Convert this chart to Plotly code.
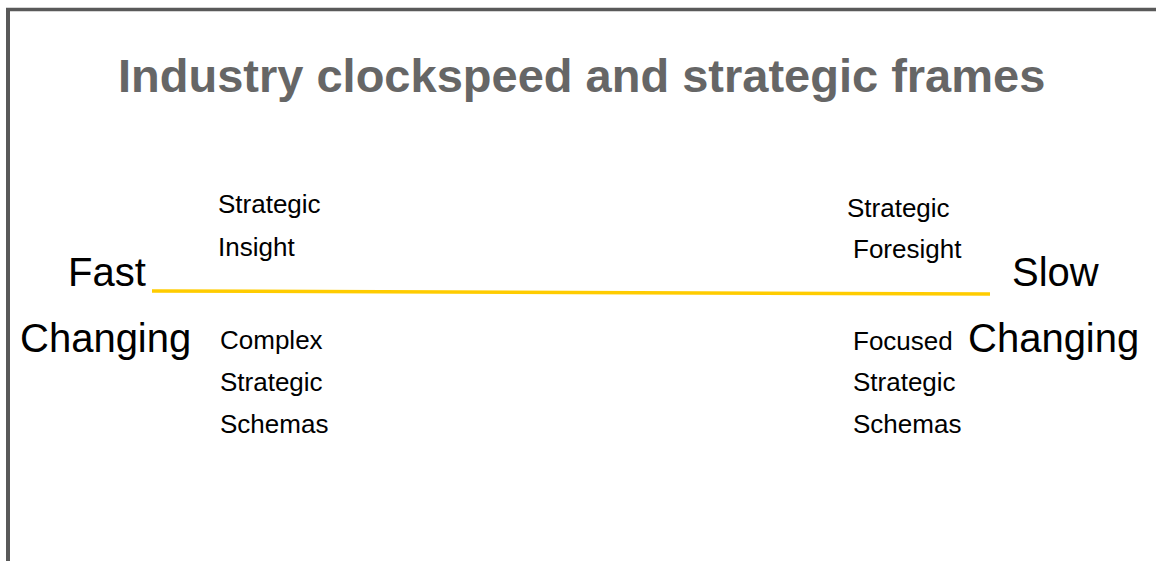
import plotly.graph_objects as go

# Data
title_text = "Industry clockspeed and strategic frames"
end_labels = ["Fast", "Changing", "Slow", "Changing"]
end_x = [66, 18, 1010, 966]
end_y = [272, 338, 272, 338]
small_labels = ["Strategic", "Insight", "Complex", "Strategic", "Schemas",
                "Strategic", "Foresight", "Focused", "Strategic", "Schemas"]
small_x = [216, 216, 218, 218, 218, 845, 851, 851, 851, 851]
small_y = [204, 247, 340, 382, 424, 208, 249, 341, 382, 424]
axis_x = [152, 600, 990]
axis_y = [291, 292.5, 294]

W, H = 1156, 561
fig = go.Figure()
fig.add_trace(go.Scatter(x=axis_x, y=axis_y, mode="lines",
                         line=dict(color="#FFCC00", width=3.5),
                         hoverinfo="skip", showlegend=False))

ann = [dict(x=W/2 + 3, y=75, text="<b>" + title_text + "</b>", showarrow=False,
            xanchor="center", yanchor="middle",
            font=dict(family="Liberation Sans", size=47, color="#666666"),
            xref="x", yref="y")]
for t, x, y in zip(end_labels, end_x, end_y):
    ann.append(dict(x=x, y=y, text=t, showarrow=False, xanchor="left", yanchor="middle",
                    font=dict(family="Liberation Sans", size=40, color="#000000"),
                    xref="x", yref="y"))
for t, x, y in zip(small_labels, small_x, small_y):
    ann.append(dict(x=x, y=y, text=t, showarrow=False, xanchor="left", yanchor="middle",
                    font=dict(family="Liberation Sans", size=26, color="#000000"),
                    xref="x", yref="y"))

shapes = [dict(type="line", xref="x", yref="y", x0=8, y0=H + 20, x1=8, y1=9.5,
               line=dict(color="#595959", width=4)),
          dict(type="line", xref="x", yref="y", x0=6, y0=9.5, x1=W + 20, y1=9.5,
               line=dict(color="#595959", width=3.5))]

fig.update_layout(width=W, height=H, margin=dict(l=0, r=0, t=0, b=0),
                  paper_bgcolor="white", plot_bgcolor="white",
                  xaxis=dict(range=[0, W], visible=False, fixedrange=True),
                  yaxis=dict(range=[H, 0], visible=False, fixedrange=True),
                  annotations=ann, shapes=shapes, showlegend=False)
fig.write_html("out.html", config={"displayModeBar": False},
               post_script="document.body.style.margin='0px';document.body.style.overflow='hidden';")
